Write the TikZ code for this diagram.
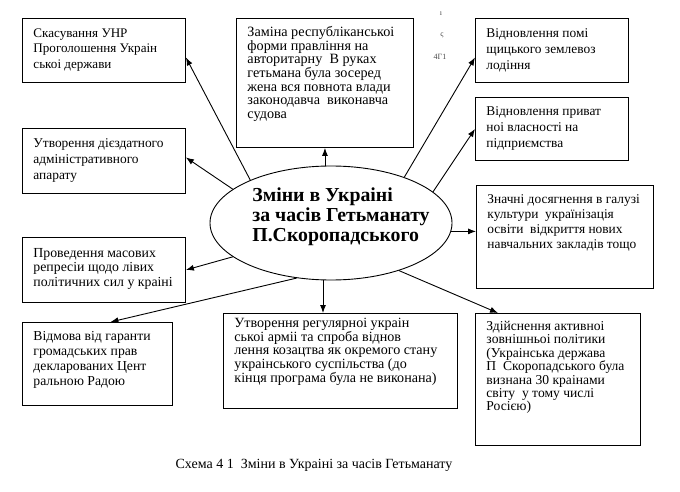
\documentclass[tikz,border=0pt]{standalone}
\usepackage{fontspec}
\setmainfont{Liberation Serif}
\usetikzlibrary{arrows.meta,shapes.geometric}
\newcommand{\bxt}[6]{\parbox[c][#2pt][t]{#1pt}{\fontsize{#3pt}{#4pt}\selectfont\raggedright\leftskip=11pt\relax\rule{0pt}{#5pt}#6}}
\tikzset{
  bx/.style={draw, line width=0.9pt, inner sep=0pt, anchor=north west},
  arr/.style={line width=0.9pt, -{Latex[length=8pt,width=6pt]}},
  scanmark/.style={font=\fontsize{8pt}{9pt}\selectfont, text=black!70, inner sep=0pt}
}
\begin{document}
\begin{tikzpicture}[x=1pt,y=-1pt]
\useasboundingbox (0,0) rectangle (680,492);
\fill[white] (0,0) rectangle (680,492);
% boxes
\node[bx] (b1) at (22,18) {\bxt{163}{64}{13.1}{15.5}{19}{Скасування УНР\\Проголошення Украін\\ськоі держави}};
\node[bx] (b2) at (236,18) {\bxt{177}{129}{14.2}{13.7}{18}{Заміна республіканськоі\\форми правління на\\авторитарну\ \ В руках\\гетьмана була зосеред\\жена вся повнота влади\\законодавча\ \ виконавча\\судова}};
\node[bx] (b3) at (475,18) {\bxt{153}{64}{13.4}{16}{19}{Відновлення помі\\щицького землевоз\\лодіння}};
\node[bx] (b4) at (475,97) {\bxt{153}{63}{13.4}{16}{18}{Відновлення приват\\ноі власності на\\підприємства}};
\node[bx] (b5) at (22,128) {\bxt{163}{65}{13.4}{16}{19}{Утворення дієздатного\\адміністративного\\апарату}};
\node[bx] (b7) at (476,185) {\bxt{177}{103}{13.4}{15}{18}{Значні досягнення в галузі\\культури\ \ українізація\\освіти\ \ відкриття нових\\навчальних закладів тощо}};
\node[bx] (b8) at (22,237) {\bxt{163}{65}{13.8}{14.5}{20}{Проведення масових\\репресіи щодо лівих\\політичних сил у краіні}};
\node[bx] (b9) at (22,322) {\bxt{150}{83}{13.7}{15}{18}{Відмова від гаранти\\громадських прав\\декларованих Цент\\ральною Радою}};
\node[bx] (b10) at (223,313) {\bxt{234}{95}{14.1}{13.7}{14}{Утворення регулярноі украін\\ськоі арміі та спроба віднов\\лення козацтва як окремого стану\\украінського суспільства (до\\кінця програма була не виконана)}};
\node[bx] (b11) at (475,313) {\bxt{165}{132}{13.6}{13.4}{17}{Здійснення активноі\\зовнішньоі політики\\(Украінська держава\\П\ \ Скоропадського була\\визнана 30 краінами\\світу\ \ у тому числі\\Росією)}};
% central ellipse (text kept from enlarging the shape)
\node[draw, ellipse, line width=0.9pt, minimum width=242pt, minimum height=114pt, inner sep=0pt,
      font=\bfseries\fontsize{19.8pt}{20pt}\selectfont] (e) at (331,223)
  {\makebox[0pt]{\smash{\begin{tabular}{@{}l@{}}\hspace*{20pt}Зміни в Украіні\\\hspace*{20pt}за часів Гетьманату\\\hspace*{20pt}П.Скоропадського\end{tabular}}}};
% connectors
\draw[arr] (e.152.6) -- ([yshift=-7pt]b1.east);
\draw[arr] (e.161.6) -- ([yshift=3.5pt]b5.east);
\draw[arr] (e.199.1) -- (b8.east);
\draw[arr] (e.238.2) -- ([xshift=13pt]b9.north);
\draw[arr] ([xshift=-8pt]e.south) -- ([xshift=-8pt]e.south |- b10.north);
\draw[arr] (e.325.8) -- ([xshift=23pt]b11.north west);
\draw[arr] (e.-4) -- (e.-4 -| b7.west);
\draw[arr] (e.17.9) -- (b4.west);
\draw[arr] (e.32.4) -- ([yshift=-7pt]b3.west);
\draw[arr] (b2.south |- e.north) -- (b2.south);
% scan marks
\node[scanmark] (m1) at (441,14) {ı};
\node[scanmark] (m2) at (442,35) {ς};
\node[scanmark] (m3) at (440,57) {4Г1};
% caption
\node[font=\fontsize{14pt}{16pt}\selectfont, inner sep=0pt] (cap) at (314,465) {Схема 4 1\ \ Зміни в Украіні за часів Гетьманату};
\end{tikzpicture}
\end{document}
